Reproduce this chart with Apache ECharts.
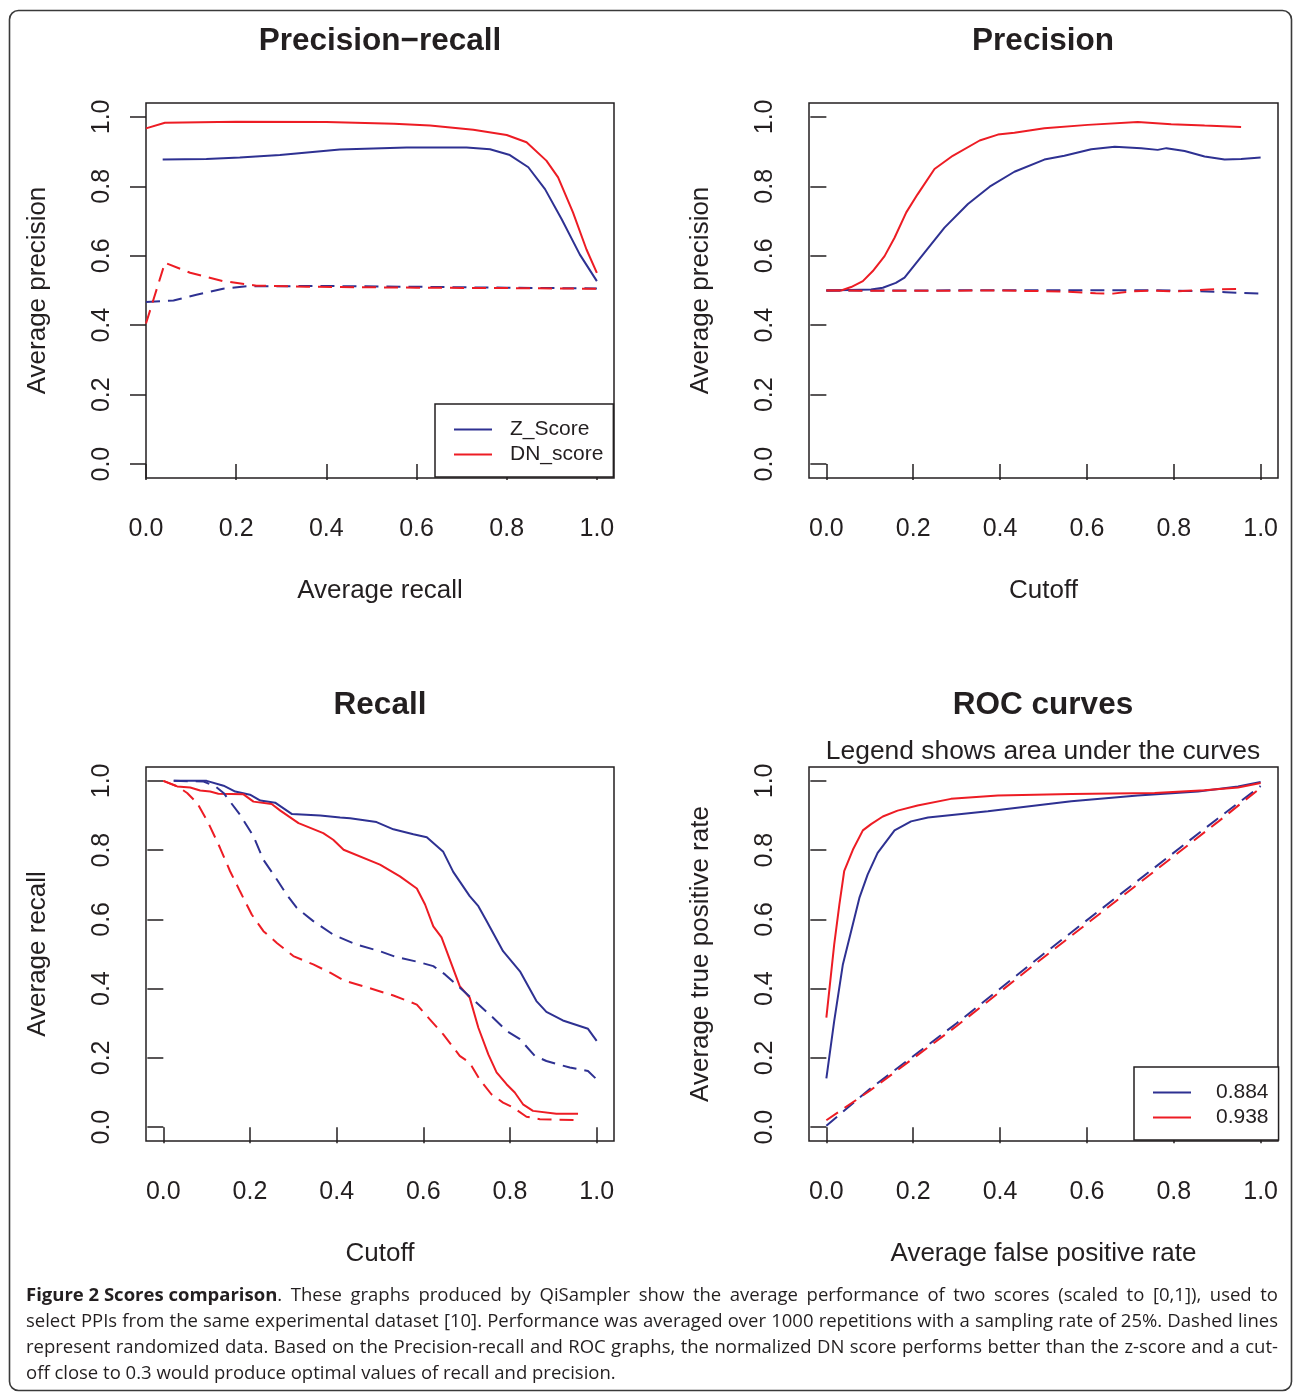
<!DOCTYPE html>
<html>
<head>
<meta charset="utf-8">
<script src="https://cdn.jsdelivr.net/npm/echarts@6/dist/echarts.min.js"></script>
<style>
	body { margin: 0; background: #fff; }
	#chart { width: 1293px; height: 1393px; }
</style>
</head>
<body>
<div id="chart"></div>
<script>
	// tick positions shared by every axis
	var ticks = [0, 0.2, 0.4, 0.6, 0.8, 1.0];

	// Precision-recall: [recall, precision]
	var prZScore = [[0.037, 0.877], [0.134, 0.879], [0.208, 0.883], [0.297, 0.890], [0.43, 0.906], [0.578, 0.912], [0.711, 0.912], [0.763, 0.907], [0.807, 0.890], [0.848, 0.855], [0.885, 0.792], [0.922, 0.705], [0.962, 0.604], [1.0, 0.527]];
	var prDNScore = [[0, 0.967], [0.042, 0.983], [0.2, 0.986], [0.4, 0.985], [0.55, 0.980], [0.63, 0.975], [0.726, 0.963], [0.80, 0.948], [0.844, 0.927], [0.888, 0.874], [0.914, 0.826], [0.947, 0.725], [0.977, 0.618], [1.0, 0.551]];
	var prZRandom = [[0, 0.467], [0.061, 0.471], [0.112, 0.488], [0.171, 0.505], [0.223, 0.512], [0.4, 0.513], [0.578, 0.511], [0.8, 0.508], [1.0, 0.506]];
	var prDNRandom = [[0, 0.405], [0.042, 0.580], [0.098, 0.551], [0.171, 0.527], [0.245, 0.514], [0.356, 0.511], [0.6, 0.508], [0.8, 0.507], [1.0, 0.505]];

	// Precision: [cutoff, precision]
	var precZScore = [[0, 0.5], [0.103, 0.503], [0.13, 0.508], [0.16, 0.522], [0.18, 0.537], [0.226, 0.609], [0.272, 0.681], [0.326, 0.749], [0.376, 0.799], [0.433, 0.842], [0.502, 0.877], [0.548, 0.888], [0.61, 0.907], [0.664, 0.914], [0.725, 0.910], [0.763, 0.905], [0.783, 0.910], [0.825, 0.902], [0.871, 0.886], [0.917, 0.877], [0.955, 0.879], [1.0, 0.883]];
	var precDNScore = [[0, 0.5], [0.034, 0.5], [0.057, 0.51], [0.084, 0.527], [0.107, 0.556], [0.134, 0.599], [0.157, 0.652], [0.184, 0.725], [0.21, 0.777], [0.249, 0.85], [0.291, 0.888], [0.353, 0.932], [0.395, 0.949], [0.433, 0.954], [0.502, 0.967], [0.602, 0.977], [0.717, 0.985], [0.794, 0.979], [0.871, 0.975], [0.955, 0.971]];
	var precZRandom = [[0, 0.5], [0.2, 0.5], [0.4, 0.501], [0.6, 0.501], [0.75, 0.501], [0.85, 0.498], [0.92, 0.495], [1.0, 0.491]];
	var precDNRandom = [[0, 0.5], [0.2, 0.499], [0.4, 0.5], [0.55, 0.497], [0.62, 0.492], [0.66, 0.491], [0.70, 0.497], [0.75, 0.500], [0.8, 0.497], [0.88, 0.503], [0.96, 0.505]];

	// Recall: [cutoff, recall]
	var recZScore = [[0.024, 1.0], [0.1, 1.0], [0.139, 0.986], [0.166, 0.969], [0.2, 0.96], [0.224, 0.943], [0.258, 0.937], [0.297, 0.904], [0.362, 0.9], [0.408, 0.894], [0.431, 0.892], [0.492, 0.881], [0.531, 0.86], [0.577, 0.846], [0.608, 0.837], [0.646, 0.795], [0.669, 0.737], [0.707, 0.667], [0.727, 0.638], [0.746, 0.595], [0.784, 0.508], [0.823, 0.45], [0.861, 0.364], [0.884, 0.333], [0.922, 0.308], [0.98, 0.284], [1.0, 0.249]];
	var recDNScore = [[0, 1.0], [0.032, 0.984], [0.062, 0.981], [0.085, 0.972], [0.108, 0.969], [0.127, 0.963], [0.185, 0.961], [0.208, 0.94], [0.25, 0.933], [0.27, 0.914], [0.312, 0.878], [0.369, 0.849], [0.392, 0.83], [0.416, 0.801], [0.5, 0.758], [0.546, 0.724], [0.585, 0.689], [0.604, 0.643], [0.623, 0.58], [0.642, 0.548], [0.684, 0.407], [0.707, 0.374], [0.727, 0.287], [0.75, 0.21], [0.769, 0.158], [0.792, 0.124], [0.811, 0.1], [0.83, 0.066], [0.853, 0.047], [0.907, 0.039], [0.957, 0.039]];
	var recZRandom = [[0.024, 1.0], [0.093, 0.998], [0.12, 0.984], [0.139, 0.965], [0.177, 0.902], [0.208, 0.84], [0.231, 0.772], [0.262, 0.715], [0.285, 0.671], [0.308, 0.633], [0.346, 0.595], [0.392, 0.556], [0.446, 0.527], [0.5, 0.508], [0.538, 0.491], [0.585, 0.478], [0.623, 0.465], [0.65, 0.441], [0.684, 0.403], [0.723, 0.359], [0.761, 0.316], [0.792, 0.278], [0.823, 0.254], [0.857, 0.206], [0.884, 0.191], [0.938, 0.172], [0.98, 0.162], [1.0, 0.138]];
	var recDNRandom = [[0, 1.0], [0.032, 0.984], [0.055, 0.965], [0.078, 0.936], [0.104, 0.878], [0.131, 0.806], [0.154, 0.739], [0.177, 0.681], [0.204, 0.614], [0.231, 0.566], [0.262, 0.532], [0.3, 0.494], [0.346, 0.47], [0.385, 0.446], [0.416, 0.424], [0.469, 0.404], [0.531, 0.38], [0.585, 0.354], [0.615, 0.311], [0.646, 0.268], [0.684, 0.206], [0.707, 0.186], [0.73, 0.138], [0.757, 0.095], [0.784, 0.071], [0.807, 0.057], [0.838, 0.03], [0.869, 0.023], [0.957, 0.02]];

	// ROC: [false positive rate, true positive rate]
	var rocZScore = [[0, 0.141], [0.018, 0.306], [0.038, 0.47], [0.057, 0.566], [0.076, 0.662], [0.095, 0.729], [0.118, 0.792], [0.157, 0.857], [0.195, 0.883], [0.234, 0.894], [0.372, 0.912], [0.564, 0.941], [0.717, 0.958], [0.856, 0.969], [0.948, 0.984], [1.0, 0.997]];
	var rocDNScore = [[0, 0.316], [0.018, 0.527], [0.03, 0.643], [0.041, 0.739], [0.061, 0.801], [0.084, 0.857], [0.103, 0.875], [0.13, 0.897], [0.164, 0.914], [0.21, 0.929], [0.287, 0.948], [0.395, 0.958], [0.564, 0.962], [0.756, 0.965], [0.871, 0.973], [0.948, 0.981], [1.0, 0.994]];
	var rocZRandom = [[0, 0.004], [0.1, 0.11], [0.3, 0.3], [0.5, 0.5], [0.7, 0.695], [0.9, 0.89], [1, 0.985]];
	var rocDNRandom = [[0, 0.02], [0.1, 0.105], [0.3, 0.292], [0.5, 0.49], [0.7, 0.685], [0.9, 0.88], [1, 0.98]];
	var aucLabels = ['0.884', '0.938'];

	var captionBold = 'Figure 2 Scores comparison';
	var captionLines = [
		'Figure 2 Scores comparison. These graphs produced by QiSampler show the average performance of two scores (scaled to [0,1]), used to',
		'select PPIs from the same experimental dataset [10]. Performance was averaged over 1000 repetitions with a sampling rate of 25%. Dashed lines',
		'represent randomized data. Based on the Precision-recall and ROC graphs, the normalized DN score performs better than the z-score and a cut-',
		'off close to 0.3 would produce optimal values of recall and precision.'
	];

	var BLUE = '#2e3192';
	var RED = '#ed1c24';
	var INK = '#231f20';
	var FONT = 'Liberation Sans';
	var CAP_FONT = 'Open Sans';
	var CAP_SIZE = 18.5;
	var CAP_WIDTH = 1252;

	function xAxis(grid, min, max, name) {
		return {
			gridIndex: grid, type: 'value', min: min, max: max,
			name: name, nameLocation: 'middle', nameGap: 100,
			nameTextStyle: { fontFamily: FONT, fontSize: 26, color: INK },
			axisLine: { show: false },
			splitLine: { show: false },
			axisTick: { show: true, inside: false, length: 16, customValues: ticks, lineStyle: { color: INK, width: 1.5 } },
			axisLabel: { customValues: ticks, margin: 39, fontFamily: FONT, fontSize: 25, color: INK,
				formatter: function(v) { return v.toFixed(1); } }
		};
	}

	function yAxis(grid, name) {
		return {
			gridIndex: grid, type: 'value', min: -0.04, max: 1.04,
			name: name, nameLocation: 'middle', nameGap: 95,
			nameTextStyle: { fontFamily: FONT, fontSize: 26, color: INK },
			axisLine: { show: false },
			splitLine: { show: false },
			axisTick: { show: true, inside: false, length: 16, customValues: ticks, lineStyle: { color: INK, width: 1.5 } },
			axisLabel: { customValues: ticks, margin: 31, rotate: 90, fontFamily: FONT, fontSize: 25, color: INK,
				formatter: function(v) { return v.toFixed(1); } }
		};
	}

	function line(name, idx, data, color, dashed) {
		return {
			name: name, type: 'line', xAxisIndex: idx, yAxisIndex: idx, data: data,
			symbol: 'none', silent: true, animation: false,
			lineStyle: { color: color, width: 2, type: dashed ? [14, 8] : 'solid' },
			itemStyle: { color: color }
		};
	}

	function legend(names, left, top, pad, textPad) {
		return {
			data: names, orient: 'vertical', left: left, top: top,
			backgroundColor: '#fff', borderColor: INK, borderWidth: 1.5, borderRadius: 0,
			padding: pad, itemGap: 0, itemWidth: 38, itemHeight: 2, icon: 'rect',
			selectedMode: false,
			textStyle: { fontFamily: FONT, fontSize: 21, color: INK, lineHeight: 25, padding: textPad }
		};
	}

	function title(text, x, y, bold, size) {
		return {
			text: text, left: x, top: y, textAlign: 'center', padding: 0,
			textStyle: { fontFamily: FONT, fontSize: size, fontWeight: bold ? 'bold' : 'normal', color: INK }
		};
	}

	// justify caption lines by widening the spaces, like the printed figure
	var measureCtx = document.createElement('canvas').getContext('2d');
	function textWidth(str, bold) {
		measureCtx.font = (bold ? 'bold ' : '') + CAP_SIZE + 'px "' + CAP_FONT + '"';
		return measureCtx.measureText(str).width;
	}
	function captionText(str, idx) {
		var boldPart = str.indexOf(captionBold) === 0 ? captionBold : '';
		var rest = str.slice(boldPart.length);
		var head = boldPart ? '{b|' + boldPart + '}' : '';
		var rich = { b: { fontFamily: CAP_FONT, fontSize: CAP_SIZE, fontWeight: 'bold', fill: INK } };
		if (idx === captionLines.length - 1) {
			return { text: head + rest, rich: rich };
		}
		var natural = textWidth(boldPart, true) + textWidth(rest, false);
		var gaps = rest.split(' ').length - 1;
		var spaceW = textWidth(' ', false) + (CAP_WIDTH - natural) / gaps;
		rich.s = { fontFamily: CAP_FONT, fontSize: CAP_SIZE, width: spaceW, fill: INK };
		return { text: head + rest.split(' ').join('{s| }'), rich: rich };
	}

	var gridStyle = { show: true, borderColor: INK, borderWidth: 1.5, backgroundColor: 'transparent', containLabel: false };

	var option = {
		backgroundColor: '#fff',
		animation: false,
		title: [
			title('Precision\u2212recall', 380, 25, true, 31.5),
			title('Precision', 1043, 25, true, 31.5),
			title('Recall', 380, 689, true, 31.5),
			title('ROC curves', 1043, 689, true, 31.5),
			title('Legend shows area under the curves', 1043, 739, false, 26.4)
		],
		grid: [
			Object.assign({ left: 146, top: 103, width: 468, height: 375 }, gridStyle),
			Object.assign({ left: 809, top: 103, width: 469, height: 375 }, gridStyle),
			Object.assign({ left: 146, top: 767, width: 468, height: 374 }, gridStyle),
			Object.assign({ left: 809, top: 767, width: 469, height: 374 }, gridStyle)
		],
		xAxis: [
			xAxis(0, 0, 1.038, 'Average recall'),
			xAxis(1, -0.04, 1.04, 'Cutoff'),
			xAxis(2, -0.04, 1.04, 'Cutoff'),
			xAxis(3, -0.04, 1.04, 'Average false positive rate')
		],
		yAxis: [
			yAxis(0, 'Average precision'),
			yAxis(1, 'Average precision'),
			yAxis(2, 'Average recall'),
			yAxis(3, 'Average true positive rate')
		],
		legend: [
			legend(['Z_Score', 'DN_score'], 435, 404, [13, 10, 10, 19], [0, 0, 0, 13]),
			legend(aucLabels, 1134, 1067, [13, 10, 10, 19], [0, 0, 0, 20])
		],
		series: [
			line('Z_Score', 0, prZScore, BLUE, false),
			line('DN_score', 0, prDNScore, RED, false),
			line('Z_Score random', 0, prZRandom, BLUE, true),
			line('DN_score random', 0, prDNRandom, RED, true),

			line('Z_Score precision', 1, precZScore, BLUE, false),
			line('DN_score precision', 1, precDNScore, RED, false),
			line('Z_Score precision random', 1, precZRandom, BLUE, true),
			line('DN_score precision random', 1, precDNRandom, RED, true),

			line('Z_Score recall', 2, recZScore, BLUE, false),
			line('DN_score recall', 2, recDNScore, RED, false),
			line('Z_Score recall random', 2, recZRandom, BLUE, true),
			line('DN_score recall random', 2, recDNRandom, RED, true),

			line(aucLabels[0], 3, rocZScore, BLUE, false),
			line(aucLabels[1], 3, rocDNScore, RED, false),
			line('Z_Score ROC random', 3, rocZRandom, BLUE, true),
			line('DN_score ROC random', 3, rocDNRandom, RED, true)
		],
		graphic: [{
			type: 'rect', silent: true, z: -1,
			shape: { x: 9.5, y: 10.5, width: 1282, height: 1380, r: 9 },
			style: { fill: 'none', stroke: '#3a3a3a', lineWidth: 1.6 }
		}].concat(captionLines.map(function(t, i) {
			var c = captionText(t, i);
			return {
				type: 'text', left: 26, top: 1286 + i * 26, silent: true,
				style: { text: c.text, rich: c.rich, fill: INK, fontFamily: CAP_FONT, fontSize: CAP_SIZE }
			};
		}))
	};

	var chart = echarts.init(document.getElementById('chart'), null, { renderer: 'canvas' });
	chart.setOption(option, true);
</script>
</body>
</html>
